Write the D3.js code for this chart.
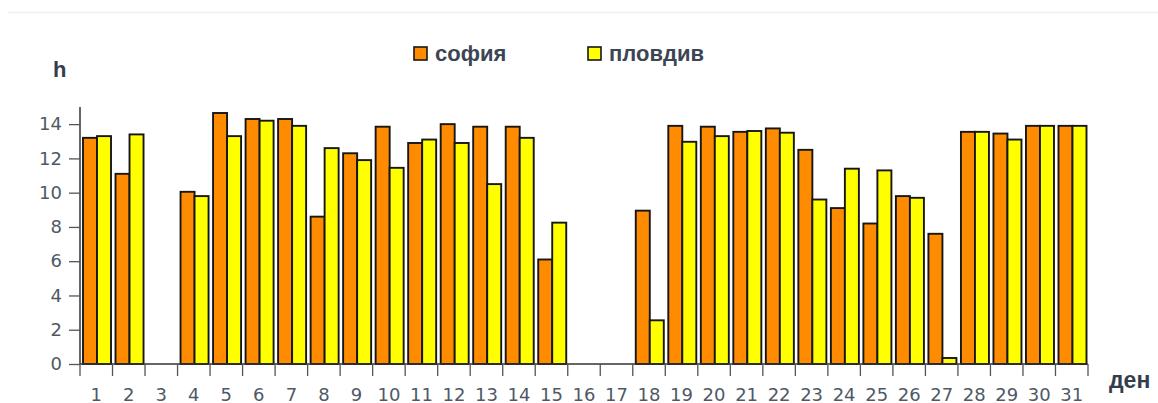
<!DOCTYPE html>
<html><head><meta charset="utf-8">
<script src="https://cdn.jsdelivr.net/npm/d3@7"></script>
<style>
html,body{margin:0;padding:0;background:#fff;}
svg{display:block;}
</style></head>
<body>
<svg id="chart" width="1158" height="403"></svg>
<script>
const days = ["1","2","3","4","5","6","7","8","9","10","11","12","13","14","15","16","17","18","19","20","21","22","23","24","25","26","27","28","29","30","31"];
const seriesNames = ["софия","пловдив"];
const sofia   = [13.2,11.1,null,10.05,14.65,14.3,14.3,8.6,12.3,13.85,12.9,14.0,13.85,13.85,6.1,null,null,8.95,13.9,13.85,13.55,13.75,12.5,9.1,8.2,9.8,7.6,13.55,13.45,13.9,13.9];
const plovdiv = [13.3,13.4,null,9.8,13.3,14.2,13.9,12.6,11.9,11.45,13.1,12.9,10.5,13.2,8.25,null,null,2.55,12.97,13.3,13.6,13.5,9.6,11.4,11.3,9.7,0.35,13.55,13.1,13.9,13.9];
const yTicks = [0,2,4,6,8,10,12,14];
const colors = ["#ff8c00","#ffff00"];
const yTitle = "h";
const xTitle = "ден";

const svg = d3.select("#chart");
const mLeft = 80, mRight = 1088, mTop = 107, mBottom = 364;

svg.append("line").attr("x1",8).attr("x2",1158).attr("y1",12.5).attr("y2",12.5)
  .attr("stroke","#e9eef4").attr("stroke-width",1.5);

const x = d3.scaleBand().domain(days).range([mLeft,mRight]).paddingInner(0).paddingOuter(0);
const x1 = d3.scaleBand().domain(seriesNames).range([3, x.bandwidth()-1.5]).padding(0);
const y = d3.scaleLinear().domain([0,15]).range([mBottom, mTop]);

const data = days.map((d,i)=>({day:d, vals:[sofia[i], plovdiv[i]]}));

const g = svg.append("g");
const groups = g.selectAll("g.day").data(data).join("g")
  .attr("transform", d=>`translate(${x(d.day)},0)`);
groups.selectAll("rect").data(d=>d.vals.map((v,k)=>({v, s:seriesNames[k], k})).filter(o=>o.v!=null))
  .join("rect")
  .attr("x", o=>x1(o.s)).attr("width", x1.bandwidth())
  .attr("y", o=>y(o.v)).attr("height", o=>y(0)-y(o.v))
  .attr("fill", o=>colors[o.k]).attr("stroke","#161616").attr("stroke-width",1.9);

const yAxis = d3.axisLeft(y).tickValues(yTicks).tickSize(11).tickPadding(7).tickSizeOuter(0);
const ya = svg.append("g").attr("transform",`translate(${mLeft},0)`).call(yAxis);
ya.select(".domain").attr("stroke","#333").attr("stroke-width",1.5).attr("d",`M0,${mTop}V${mBottom}`);
ya.selectAll(".tick line").attr("stroke","#555").attr("stroke-width",1.3);
ya.selectAll(".tick text").attr("font-family","DejaVu Sans, sans-serif").attr("font-size",18).attr("fill","#4f5966");

const xa = svg.append("g").attr("transform",`translate(0,${mBottom})`);
xa.append("line").attr("x1",mLeft).attr("x2",mRight).attr("y1",0).attr("y2",0).attr("stroke","#333").attr("stroke-width",1.5);
const bounds = days.map(d=>x(d)).concat([x(days[days.length-1])+x.bandwidth()]);
xa.selectAll("line.tk").data(bounds).join("line").attr("class","tk")
  .attr("x1",d=>d).attr("x2",d=>d).attr("y1",0).attr("y2",12).attr("stroke","#555").attr("stroke-width",1.3);
xa.selectAll("text").data(days).join("text")
  .attr("x",d=>x(d)+x.bandwidth()/2).attr("y",36.5)
  .attr("text-anchor","middle").attr("font-family","DejaVu Sans, sans-serif").attr("font-size",18).attr("fill","#4f5966")
  .text(d=>d);

svg.append("text").attr("x",53).attr("y",77).attr("font-family","Liberation Sans, Arial, sans-serif").attr("font-weight","bold")
  .attr("font-size",22).attr("fill","#343d4b").text(yTitle);
svg.append("text").attr("x",1109).attr("y",388).attr("font-family","Liberation Sans, Arial, sans-serif").attr("font-weight","bold")
  .attr("font-size",23).attr("fill","#343d4b").text(xTitle);

const legX = [414, 588];
const leg = svg.append("g");
seriesNames.forEach((s,k)=>{
  leg.append("rect").attr("x",legX[k]).attr("y",47).attr("width",13).attr("height",13)
    .attr("fill",colors[k]).attr("stroke","#161616").attr("stroke-width",1.6);
  leg.append("text").attr("x",legX[k]+21).attr("y",61).attr("font-family","Liberation Sans, Arial, sans-serif")
    .attr("font-weight","bold").attr("font-size",22).attr("fill","#3c4554").text(s);
});
</script>
</body></html>
